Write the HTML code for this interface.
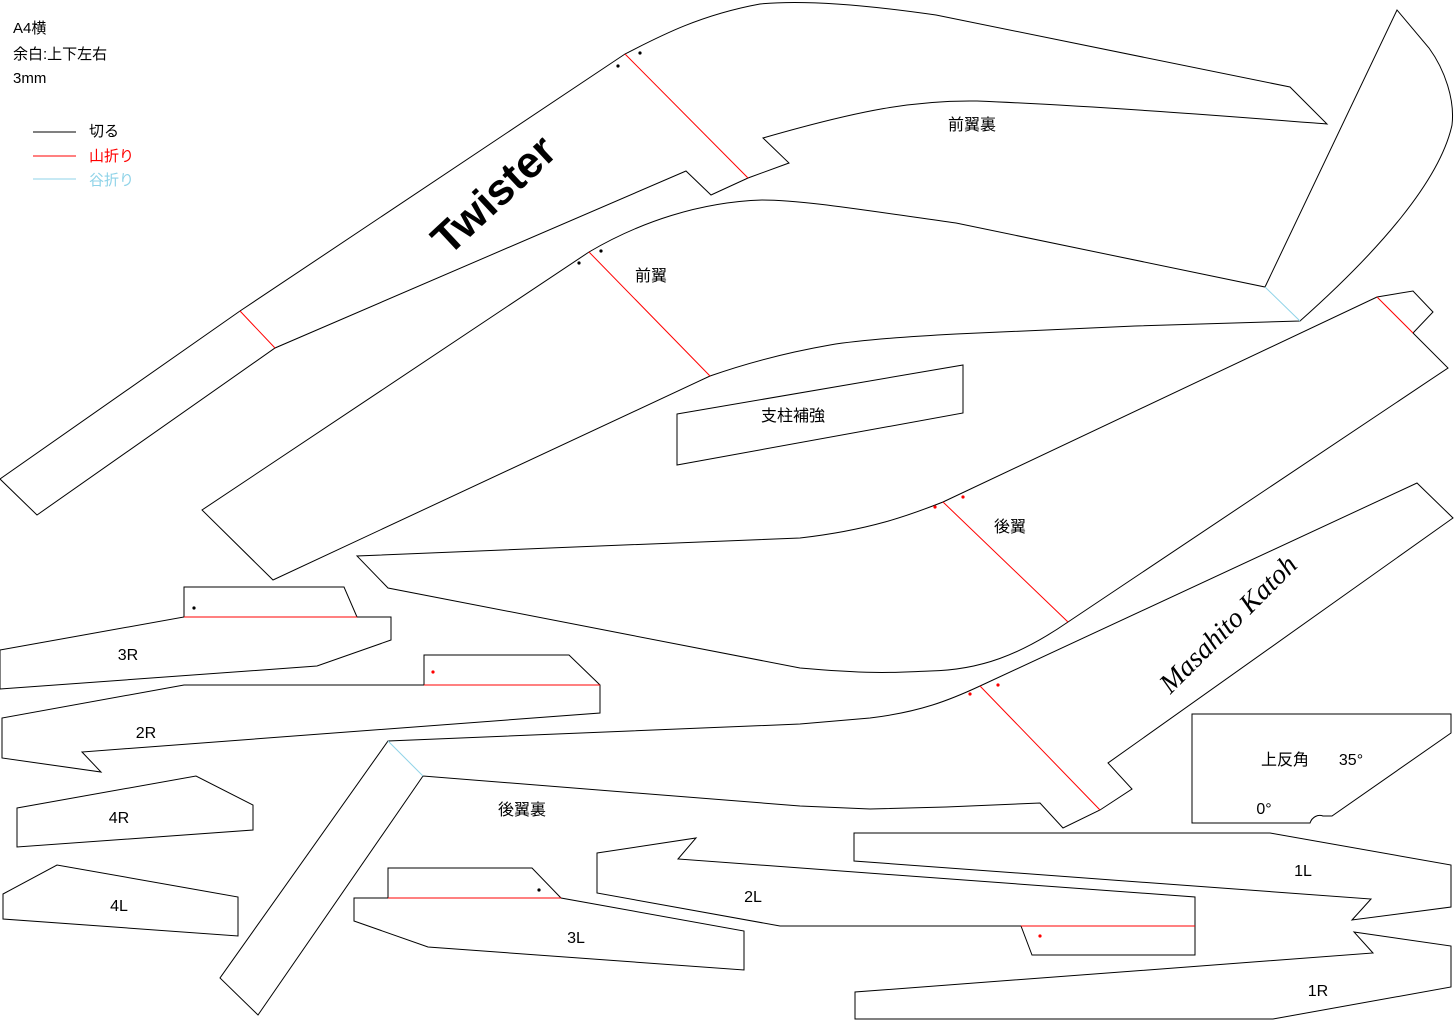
<!DOCTYPE html>
<html><head><meta charset="utf-8"><style>
html,body{margin:0;padding:0;background:#fff;}
svg{display:block;}
text{font-family:"Liberation Sans","Noto Sans CJK JP",sans-serif;}
</style></head><body>
<svg width="1455" height="1020" viewBox="0 0 1455 1020" xmlns="http://www.w3.org/2000/svg">
<g fill="none" stroke="#000" stroke-width="1">
<path d="M0,479 L240,311 L625,54 C660,36 700,15 760,4 C800,0 860,4 936,15 L1290,87 L1327,124 C1250,118 1100,106 977,101 C915,100 860,110 763,138 L789,163 L748,178 L711,195 L686,171 L275,348 L37,515 Z"/>
<path d="M202,510 L589,252 C640,222 700,202 762,200 C800,200 850,208 956,223 L1265,287 L1397,10 L1429,48 C1445,70 1455,100 1452,125 C1440,180 1380,250 1300,321 L1135,326 L956,334 C900,337 860,340 830,345 C790,352 750,362 710,376 L273,580 Z"/>
<path d="M1377,297 L1413,291 L1433,312 L1413,333 L1448,368 L1068,622 C1020,655 980,670 930,671 C900,672 880,675 800,668 L388,588 L357,556 L550,548 L800,538 C870,530 910,515 943,502 Z"/>
<path d="M1417,483 L1453,518 L1108,763 L1132,789 L1100,810 L1063,828 L1040,803 L946,807 L870,809 L800,806 L423,776 L258,1015 L220,978 L388,741 L800,724 L870,718 C920,712 950,700 980,686 Z"/>
<path d="M677,414 L963,365 L963,413 L677,465 Z"/>
<path d="M184,617 L184,587 L344,587 L357,617 L391,617 L391,640 L317,666 L0,689 L0,650 Z"/>
<path d="M424,685 L424,655 L569,655 L600,685 L600,713 L82,752 L101,772 L2,758 L2,718 L184,685 Z"/>
<path d="M17,808 L196,776 L253,805 L253,830 L17,847 Z"/>
<path d="M3,894 L57,865 L238,897 L238,936 L3,919 Z"/>
<path d="M388,898 L388,868 L532,868 L561,898 L744,931 L744,970 L428,947 L354,921 L354,898 Z"/>
<path d="M597,853 L696,838 L678,859 L1195,897 L1195,955 L1032,955 L1021,926 L780,926 L597,893 Z"/>
<path d="M854,833 L1270,833 L1451,865 L1451,907 L1352,920 L1371,899 L854,861 Z"/>
<path d="M1354,932 L1451,946 L1451,987 L1273,1019 L855,1019 L855,992 L1373,953 Z"/>
<path d="M1192,714 L1451,714 L1451,733 L1332,816 L1323,816 C1318,814 1312,817 1310,823 L1192,823 Z"/>
</g>
<g stroke="#f00" stroke-width="1" fill="none">
<line x1="240" y1="311" x2="275" y2="348"/>
<line x1="625" y1="54" x2="748" y2="178"/>
<line x1="589" y1="252" x2="710" y2="376"/>
<line x1="943" y1="502" x2="1068" y2="622"/>
<line x1="980" y1="686" x2="1100" y2="810"/>
<line x1="1377" y1="297" x2="1413" y2="333"/>
<line x1="184" y1="617" x2="357" y2="617"/>
<line x1="424" y1="685" x2="600" y2="685"/>
<line x1="388" y1="898" x2="561" y2="898"/>
<line x1="1021" y1="926" x2="1195" y2="926"/>
<line x1="33" y1="156" x2="76" y2="156"/>
</g>
<g stroke="#8fd3e8" stroke-width="1">
<line x1="1265" y1="287" x2="1300" y2="321"/>
<line x1="388" y1="741" x2="423" y2="776"/>
<line x1="33" y1="179" x2="76" y2="179"/>
</g>
<line x1="33" y1="132" x2="76" y2="132" stroke="#000"/>
<g fill="#000">
<circle cx="618" cy="66" r="1.6"/><circle cx="640" cy="53" r="1.6"/>
<circle cx="579" cy="263" r="1.6"/><circle cx="601" cy="251" r="1.6"/>
<circle cx="194" cy="608" r="1.6"/><circle cx="539" cy="890" r="1.6"/>
</g>
<g fill="#f00">
<circle cx="935" cy="507" r="1.6"/><circle cx="963" cy="497" r="1.6"/>
<circle cx="970" cy="694" r="1.6"/><circle cx="998" cy="685" r="1.6"/>
<circle cx="433" cy="672" r="1.6"/><circle cx="1040" cy="936" r="1.6"/>
</g>
<g font-size="15" fill="#000">
<text x="13" y="33">A4横</text>
<text x="13" y="59">余白:上下左右</text>
<text x="13" y="83">3mm</text>
<text x="89" y="136">切る</text>
<text x="89" y="161" fill="#f00">山折り</text>
<text x="89" y="185" fill="#8fd3e8">谷折り</text>
<g font-size="16" text-anchor="middle">
<text x="972" y="130">前翼裏</text>
<text x="651" y="281">前翼</text>
<text x="793" y="421">支柱補強</text>
<text x="1010" y="532">後翼</text>
<text x="522" y="815">後翼裏</text>
<text x="128" y="660">3R</text>
<text x="146" y="738">2R</text>
<text x="119" y="823">4R</text>
<text x="119" y="911">4L</text>
<text x="576" y="943">3L</text>
<text x="753" y="902">2L</text>
<text x="1303" y="876">1L</text>
<text x="1318" y="996">1R</text>
<text x="1285" y="765">上反角</text>
<text x="1351" y="765">35°</text>
<text x="1264" y="814">0°</text>
</g>
</g>
<text x="0" y="0" transform="translate(496,197) rotate(-43)" text-anchor="middle" dominant-baseline="middle" font-size="44" font-weight="bold" fill="#000" style="font-family:'Liberation Sans',sans-serif">Twister</text>
<text x="0" y="0" transform="translate(1230,626) rotate(-45)" text-anchor="middle" dominant-baseline="middle" font-size="28" font-style="italic" fill="#000" style="font-family:'Liberation Serif',serif">Masahito Katoh</text>
</svg>
</body></html>
